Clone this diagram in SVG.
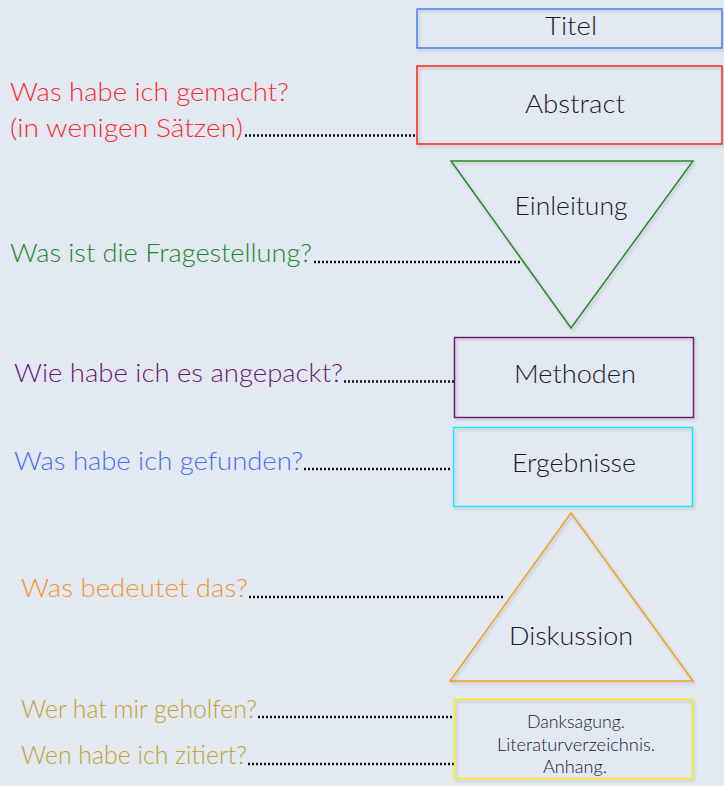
<svg xmlns="http://www.w3.org/2000/svg" width="724" height="786" viewBox="0 0 724 786">
<defs>
<filter id="sh" x="-10%" y="-10%" width="130%" height="130%">
<feDropShadow dx="1.5" dy="2" stdDeviation="1.5" flood-color="#000" flood-opacity="0.18"/>
</filter>
</defs>
<style>
.node{fill:none;stroke-width:1.5;filter:url(#sh)}
.nt{font-family:Lato,"Open Sans","Liberation Sans",sans-serif;font-size:25px;fill:#1a1a2a;text-anchor:middle;font-weight:300}
.st{font-family:Lato,"Open Sans","Liberation Sans",sans-serif;font-size:17px;fill:#1a1a2a;text-anchor:middle;font-weight:300}
.q{font-family:Lato,"Open Sans","Liberation Sans",sans-serif;font-size:25px;font-weight:300}
.dot{stroke:#111;stroke-width:2.6;stroke-dasharray:2 2;fill:none}
</style>
<rect width="724" height="786" fill="#e2e9f3"/>

<g id="connectors">
<line class="dot" x1="245" y1="135.5" x2="415" y2="135.5"/>
<line class="dot" x1="314" y1="262" x2="521" y2="262"/>
<line class="dot" x1="344" y1="381.5" x2="454" y2="381.5"/>
<line class="dot" x1="304" y1="469" x2="452" y2="469"/>
<line class="dot" x1="249" y1="597" x2="505" y2="597"/>
<line class="dot" x1="258" y1="717" x2="454" y2="717"/>
<line class="dot" x1="248" y1="764" x2="454" y2="764"/>
</g>

<g id="q-abstract">
<text class="q" fill="#ff2a2a" x="10" y="101" textLength="279" lengthAdjust="spacingAndGlyphs">Was habe ich gemacht?</text>
<text class="q" fill="#ff2a2a" x="10" y="137" textLength="233" lengthAdjust="spacingAndGlyphs">(in wenigen Sätzen)</text>
</g>
<g id="q-einleitung">
<text class="q" fill="#1e8a2a" x="10" y="262" textLength="302" lengthAdjust="spacingAndGlyphs">Was ist die Fragestellung?</text>
</g>
<g id="q-methoden">
<text class="q" fill="#6b1a73" x="14" y="382" textLength="329" lengthAdjust="spacingAndGlyphs">Wie habe ich es angepackt?</text>
</g>
<g id="q-ergebnisse">
<text class="q" fill="#4a6ef5" x="14" y="470" textLength="289" lengthAdjust="spacingAndGlyphs">Was habe ich gefunden?</text>
</g>
<g id="q-diskussion">
<text class="q" fill="#f5952e" x="21" y="597" textLength="227" lengthAdjust="spacingAndGlyphs">Was bedeutet das?</text>
</g>
<g id="q-anhang">
<text class="q" fill="#c0a62a" x="21" y="718" font-size="23" textLength="236" lengthAdjust="spacingAndGlyphs">Wer hat mir geholfen?</text>
<text class="q" fill="#c0a62a" x="21" y="764" font-size="23" textLength="226" lengthAdjust="spacingAndGlyphs">Wen habe ich zitiert?</text>
</g>

<g id="titel">
<rect class="node" x="417" y="9" width="305" height="39" stroke="#4a7ff5"/>
<text class="nt" x="571" y="35" textLength="52" lengthAdjust="spacingAndGlyphs">Titel</text>
</g>
<g id="abstract">
<rect class="node" x="417" y="66" width="305" height="78" stroke="#ff2a10"/>
<text class="nt" x="575" y="113" textLength="100" lengthAdjust="spacingAndGlyphs">Abstract</text>
</g>
<g id="einleitung">
<polygon class="node" points="451,161 693,161 571,328" stroke="#2a8a2a"/>
<text class="nt" x="571" y="215" textLength="113" lengthAdjust="spacingAndGlyphs">Einleitung</text>
</g>
<g id="methoden">
<rect class="node" x="454.5" y="337.5" width="239" height="80" stroke="#6b1a73"/>
<text class="nt" x="575" y="383" textLength="122" lengthAdjust="spacingAndGlyphs">Methoden</text>
</g>
<g id="ergebnisse">
<rect class="node" x="453.5" y="427.5" width="239" height="79" stroke="#1ee8f0"/>
<text class="nt" x="574" y="472" textLength="124" lengthAdjust="spacingAndGlyphs">Ergebnisse</text>
</g>
<g id="diskussion">
<polygon class="node" points="571,513 693,681 450,681" stroke="#f5a020"/>
<text class="nt" x="571" y="645" textLength="124" lengthAdjust="spacingAndGlyphs">Diskussion</text>
</g>
<g id="anhang">
<rect class="node" x="454.5" y="699.5" width="238" height="79" stroke="#f5ee00" stroke-width="2"/>
<text class="st" x="576" y="728" textLength="98" lengthAdjust="spacingAndGlyphs">Danksagung.</text>
<text class="st" x="576" y="751" textLength="158" lengthAdjust="spacingAndGlyphs">Literaturverzeichnis.</text>
<text class="st" x="575" y="773" textLength="64" lengthAdjust="spacingAndGlyphs">Anhang.</text>
</g>
</svg>
